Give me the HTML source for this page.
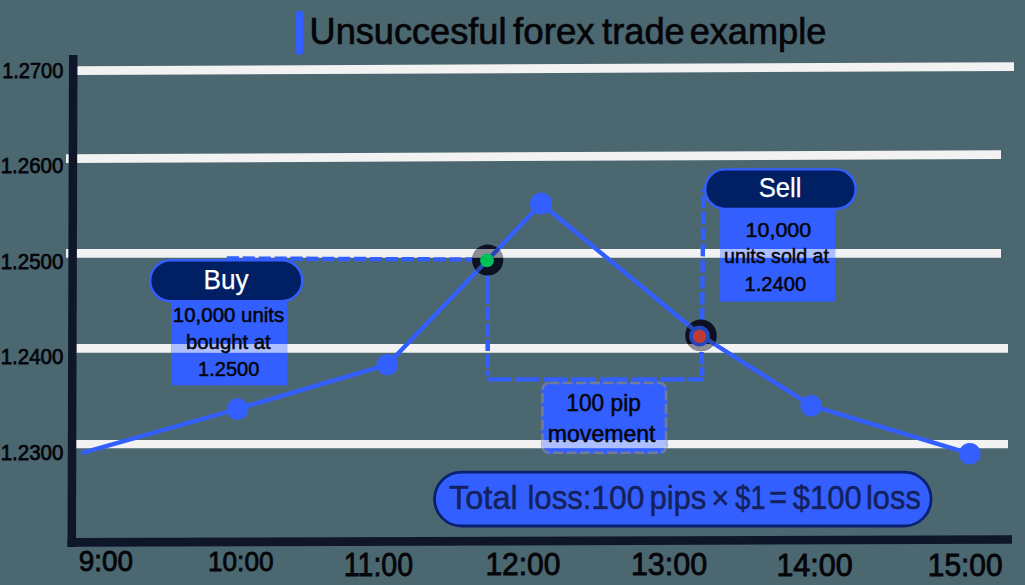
<!DOCTYPE html>
<html><head><meta charset="utf-8"><style>
html,body{margin:0;padding:0;background:#4b6770;}
svg{display:block;}
text{font-family:"Liberation Sans",sans-serif;white-space:pre;}
</style></head><body>
<svg width="1025" height="585" viewBox="0 0 1025 585">
<rect width="1025" height="585" fill="#4b6770"/>
<polygon points="77,66.2 1014,62.2 1014,71.0 77,75.0" fill="#f2f2f2"/>
<polygon points="66,154.2 1001,150.2 1001,159.0 66,163.0" fill="#f2f2f2"/>
<polygon points="66,249 1001,249 1001,257.8 66,257.8" fill="#f2f2f2"/>
<polygon points="76,344 1008,344 1008,352.8 76,352.8" fill="#f2f2f2"/>
<polygon points="76,440 1008,440 1008,448.2 76,448.2" fill="#f2f2f2"/>
<polygon points="69,55 77.5,55 76,547 67.5,547" fill="#101629"/>
<polygon points="67.5,538 1012,535.2 1012,543.8 67.5,546.8" fill="#101629"/>
<rect x="171.2" y="290" width="116" height="95.4" fill="#335fff"/>
<rect x="150.2" y="260.2" width="152" height="41" rx="20.5" fill="#012064" stroke="#335fff" stroke-width="2.4"/>
<rect x="720.1" y="200" width="115.1" height="101.6" fill="#335fff"/>
<rect x="705.2" y="169.4" width="150.5" height="39.6" rx="19.8" fill="#012064" stroke="#335fff" stroke-width="2.4"/>
<rect x="541.1" y="381.6" width="126.2" height="72.4" rx="8" fill="#335fff"/>
<rect x="542.4" y="382.9" width="123.6" height="69.8" rx="6.8" fill="none" stroke="#717b9a" stroke-width="2.6" stroke-dasharray="10 3.5"/>
<rect x="171.2" y="344" width="116" height="8.8" fill="#ffffff" opacity="0.6"/>
<rect x="720.1" y="249" width="115.1" height="8.8" fill="#ffffff" opacity="0.6"/>
<rect x="541.2" y="440" width="125.6" height="8.2" fill="#ffffff" opacity="0.6"/>
<line x1="226.8" y1="258.5" x2="474" y2="259.5" stroke="#335fff" stroke-width="4.4" stroke-dasharray="12.2 3.7"/>
<line x1="487.7" y1="275" x2="487.7" y2="379" stroke="#335fff" stroke-width="4.6" stroke-dasharray="28.8 3.2 13.3 3.5 12.9 3 11.3 3 13.4 3.1 5.1 20"/>
<line x1="487" y1="379.4" x2="703.6" y2="379.4" stroke="#335fff" stroke-width="4.4" stroke-dasharray="24.6 3.5 24.6 3.5 24.6 3.5 24.6 4.7 26.9 4.7 24.6 3.5 24.6 3.5"/>
<line x1="703.5" y1="189" x2="702.0" y2="330" stroke="#335fff" stroke-width="4.4" stroke-dasharray="12.6 3.5" stroke-dashoffset="9.6"/>
<line x1="701.5" y1="352" x2="702.2" y2="381" stroke="#335fff" stroke-width="4.8" stroke-dasharray="12 3 9 20"/>
<polyline points="83.3,452.6 237.6,409 387.3,364.7 487.7,260 541.1,203.5 701,335.5 811.2,405.7 969.8,453.7" fill="none" stroke="#335fff" stroke-width="4.4" stroke-linejoin="round" stroke-linecap="round"/>
<circle cx="237.6" cy="409" r="10.8" fill="#335fff"/>
<circle cx="387.3" cy="364.7" r="10.8" fill="#335fff"/>
<circle cx="541.1" cy="203.5" r="11" fill="#335fff"/>
<circle cx="811.2" cy="405.7" r="10.8" fill="#335fff"/>
<circle cx="969.8" cy="453.7" r="10.8" fill="#335fff"/>
<defs><clipPath id="cb"><circle cx="487.7" cy="260" r="15.6"/></clipPath><clipPath id="cs"><circle cx="701" cy="335.4" r="15.8"/></clipPath></defs>
<circle cx="487.7" cy="260" r="15.6" fill="#0c1020"/>
<g clip-path="url(#cb)"><rect x="460" y="249" width="60" height="8.8" fill="#b8b8bc" opacity="0.75"/><polyline points="83.3,452.6 237.6,409 387.3,364.7 487.7,260 541.1,203.5 701,335.5 811.2,405.7 969.8,453.7" fill="none" stroke="#2547b8" stroke-width="4.4"/></g>
<circle cx="487" cy="260.4" r="6.9" fill="#00c05a"/>
<circle cx="701" cy="335.4" r="15.8" fill="#0c1020"/>
<g clip-path="url(#cs)"><rect x="680" y="344" width="60" height="8.8" fill="#b8b8bc" opacity="0.75"/><polyline points="83.3,452.6 237.6,409 387.3,364.7 487.7,260 541.1,203.5 701,335.5 811.2,405.7 969.8,453.7" fill="none" stroke="#2547b8" stroke-width="4.4"/><circle cx="699.5" cy="336" r="10.5" fill="#2547b8"/></g>
<circle cx="699.5" cy="336.4" r="6.6" fill="#c23a30"/>
<rect x="434.5" y="472.2" width="496.6" height="53.8" rx="26.9" fill="#335fff" stroke="#0a2070" stroke-width="2.8"/>
<rect x="295.1" y="10.7" width="8" height="44" rx="3" fill="#335fff"/>
<text x="309.61" y="43.90" font-size="36.50" fill="#050509" stroke="#050509" stroke-width="0.7" textLength="196.82" lengthAdjust="spacingAndGlyphs">Unsuccesful</text>
<text x="513.09" y="43.90" font-size="36.50" fill="#050509" stroke="#050509" stroke-width="0.7" textLength="81.57" lengthAdjust="spacingAndGlyphs">forex</text>
<text x="602.08" y="43.90" font-size="36.50" fill="#050509" stroke="#050509" stroke-width="0.7" textLength="82.66" lengthAdjust="spacingAndGlyphs">trade</text>
<text x="689.66" y="43.90" font-size="36.50" fill="#050509" stroke="#050509" stroke-width="0.7" textLength="136.67" lengthAdjust="spacingAndGlyphs">example</text>
<text x="2.15" y="77.94" font-size="22.51" fill="#050509" stroke="#050509" stroke-width="0.75" textLength="61.15" lengthAdjust="spacingAndGlyphs">1.2700</text>
<text x="0.67" y="173.08" font-size="22.02" fill="#050509" stroke="#050509" stroke-width="0.75" textLength="62.66" lengthAdjust="spacingAndGlyphs">1.2600</text>
<text x="0.69" y="268.62" font-size="21.63" fill="#050509" stroke="#050509" stroke-width="0.75" textLength="62.59" lengthAdjust="spacingAndGlyphs">1.2500</text>
<text x="0.67" y="363.62" font-size="22.02" fill="#050509" stroke="#050509" stroke-width="0.75" textLength="62.66" lengthAdjust="spacingAndGlyphs">1.2400</text>
<text x="0.67" y="460.40" font-size="22.02" fill="#050509" stroke="#050509" stroke-width="0.75" textLength="62.66" lengthAdjust="spacingAndGlyphs">1.2300</text>
<text x="78.66" y="570.94" font-size="28.62" fill="#050509" stroke="#050509" stroke-width="0.85" textLength="54.33" lengthAdjust="spacingAndGlyphs">9:00</text>
<text x="207.98" y="571.12" font-size="28.45" fill="#050509" stroke="#050509" stroke-width="0.85" textLength="65.55" lengthAdjust="spacingAndGlyphs">10:00</text>
<text x="343.78" y="576.04" font-size="32.89" fill="#050509" stroke="#050509" stroke-width="0.85" textLength="69.33" lengthAdjust="spacingAndGlyphs">11:00</text>
<text x="485.38" y="575.28" font-size="31.94" fill="#050509" stroke="#050509" stroke-width="0.85" textLength="75.05" lengthAdjust="spacingAndGlyphs">12:00</text>
<text x="630.88" y="575.28" font-size="31.94" fill="#050509" stroke="#050509" stroke-width="0.85" textLength="76.34" lengthAdjust="spacingAndGlyphs">13:00</text>
<text x="776.45" y="575.60" font-size="30.72" fill="#050509" stroke="#050509" stroke-width="0.85" textLength="76.15" lengthAdjust="spacingAndGlyphs">14:00</text>
<text x="927.86" y="575.60" font-size="30.72" fill="#050509" stroke="#050509" stroke-width="0.85" textLength="74.67" lengthAdjust="spacingAndGlyphs">15:00</text>
<text x="203.41" y="288.90" font-size="27.80" fill="#ffffff" stroke="#ffffff" stroke-width="0.25" textLength="45.16" lengthAdjust="spacingAndGlyphs">Buy</text>
<text x="758.64" y="197.34" font-size="28.00" fill="#ffffff" stroke="#ffffff" stroke-width="0.25" textLength="42.72" lengthAdjust="spacingAndGlyphs">Sell</text>
<text x="172.89" y="321.50" font-size="19.30" fill="#050509" stroke="#050509" stroke-width="0.5" textLength="111.31" lengthAdjust="spacingAndGlyphs">10,000 units</text>
<text x="186.02" y="348.50" font-size="19.60" fill="#050509" stroke="#050509" stroke-width="0.5" textLength="84.76" lengthAdjust="spacingAndGlyphs">bought at</text>
<text x="198.07" y="375.70" font-size="19.30" fill="#050509" stroke="#050509" stroke-width="0.5" textLength="61.37" lengthAdjust="spacingAndGlyphs">1.2500</text>
<text x="745.63" y="236.60" font-size="19.30" fill="#050509" stroke="#050509" stroke-width="0.5" textLength="65.58" lengthAdjust="spacingAndGlyphs">10,000</text>
<text x="724.10" y="263.10" font-size="19.80" fill="#050509" stroke="#050509" stroke-width="0.5" textLength="104.87" lengthAdjust="spacingAndGlyphs">units sold at</text>
<text x="744.47" y="290.50" font-size="19.30" fill="#050509" stroke="#050509" stroke-width="0.5" textLength="61.63" lengthAdjust="spacingAndGlyphs">1.2400</text>
<text x="566.35" y="410.80" font-size="23.60" fill="#050509" stroke="#050509" stroke-width="0.5" textLength="74.46" lengthAdjust="spacingAndGlyphs">100 pip</text>
<text x="547.77" y="441.60" font-size="23.60" fill="#050509" stroke="#050509" stroke-width="0.5" textLength="107.78" lengthAdjust="spacingAndGlyphs">movement</text>
<text x="449.00" y="508.90" font-size="33.30" fill="#14215a" stroke="#14215a" stroke-width="0.5" textLength="68.75" lengthAdjust="spacingAndGlyphs">Total</text>
<text x="527.39" y="508.90" font-size="33.30" fill="#14215a" stroke="#14215a" stroke-width="0.5" textLength="64.11" lengthAdjust="spacingAndGlyphs">loss:</text>
<text x="591.29" y="508.90" font-size="33.30" fill="#14215a" stroke="#14215a" stroke-width="0.5" textLength="53.11" lengthAdjust="spacingAndGlyphs">100</text>
<text x="649.50" y="508.90" font-size="33.30" fill="#14215a" stroke="#14215a" stroke-width="0.5" textLength="56.77" lengthAdjust="spacingAndGlyphs">pips</text>
<text x="711.41" y="508.90" font-size="33.30" fill="#14215a" stroke="#14215a" stroke-width="0.5" textLength="17.78" lengthAdjust="spacingAndGlyphs">×</text>
<text x="735.30" y="508.90" font-size="33.30" fill="#14215a" stroke="#14215a" stroke-width="0.5" textLength="30.19" lengthAdjust="spacingAndGlyphs">$1</text>
<text x="769.17" y="508.90" font-size="33.30" fill="#14215a" stroke="#14215a" stroke-width="0.5" textLength="17.81" lengthAdjust="spacingAndGlyphs">=</text>
<text x="792.70" y="508.90" font-size="33.30" fill="#14215a" stroke="#14215a" stroke-width="0.5" textLength="68.98" lengthAdjust="spacingAndGlyphs">$100</text>
<text x="866.02" y="508.90" font-size="33.30" fill="#14215a" stroke="#14215a" stroke-width="0.5" textLength="54.82" lengthAdjust="spacingAndGlyphs">loss</text>
</svg>
</body></html>
